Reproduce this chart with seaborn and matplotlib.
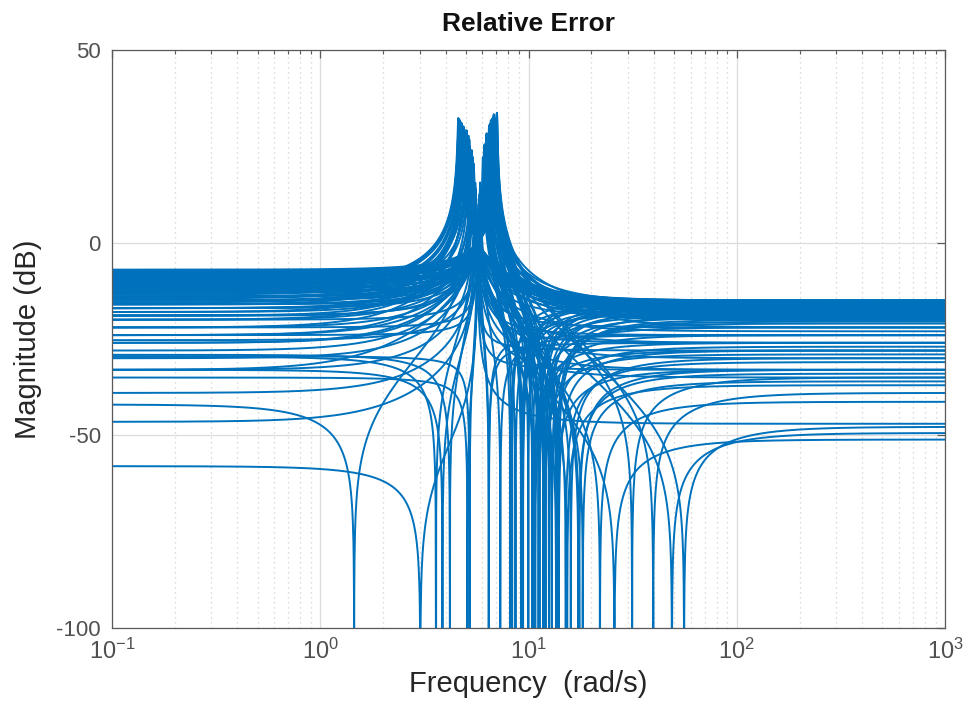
import numpy as np
import pandas as pd
import matplotlib
matplotlib.use("Agg")
import matplotlib.pyplot as plt
import seaborn as sns
from matplotlib.ticker import LogLocator, NullFormatter, FixedLocator, FuncFormatter

# ---- data read from the reference (one entry per sampled model) ----
# low-frequency level (dB) and its sign, high-frequency level (dB) and its sign
low_db = [-7, -8, -9, -10, -11, -8, -7.5, -8.5, -9.5, -12, -13, -14, -15, -9, -11, -9, -14, -25.3, -18.8, -16, -17,
          -7.2, -7.8, -8.2, -8.8, -9.2, -9.8, -10.5, -10.2, -11.5, -12.5, -7.6, -8.6,
          -11, -12, -13, -14, -15, -16, -17, -18, -20, -22, -24, -26, -30, -33, -39, -46.5,
          -11.5, -12.5, -11.2, -13.5, -12, -14.5, -10.8, -13, -15.5, -19,
          -12, -15, -17, -20, -24, -28, -33,
          -13, -14, -16, -18, -22, -26,
          -10, -14, -16, -17, -19, -11, -12.5, -15,
          -42, -58, -29.6, -29.1, -29.5,
          -33, -35,
          -24, -20, -22]
low_sign = ([-1] * 33 + [1] * 26 + [-1] * 13 + [1] * 8 + [-1] * 5 + [1] * 2 + [-1] * 3)
high_db = [-16, -15, -17, -15, -18, -20, -19, -17.5, -21, -22, -24, -28, -33, -35, -47.8, -39, -49.4, -51.1, -41.3, -34, -36,
           -15.5, -16.5, -18, -15.2, -19.5, -16.2, -17.2, -19, -16.5, -18.5, -17.8, -20.5,
           -16, -15, -17, -18, -19, -16, -20, -15, -17, -16, -19, -23, -26, -30, -33, -35,
           -15.5, -16.5, -17, -15.5, -18.5, -16.5, -15.8, -19.5, -17.5, -18,
           -22, -18, -20, -16, -17, -19, -15,
           -20, -17, -19, -15.5, -18, -16,
           -30, -26, -28, -33, -37, -27, -31, -29,
           -19.2, -47, -22, -24, -28,
           -26, -33,
           -26, -24, -24]
high_sign = ([-1] * 33 + [-1] * 26 + [1] * 13 + [1] * 8 + [-1] * 5 + [1] * 2 + [-1] * 3)

nominal_freq = 5.7      # rad/s, nominal resonance
damping_coef = 0.05     # damping coefficient of the resonance

# ---- build frequency responses of the relative error models ----
w_base = np.logspace(-1, 3, 3000)
rows = []
for i, (ld, ls, hd, hs) in enumerate(zip(low_db, low_sign, high_db, high_sign)):
    L = ls * 10 ** (ld / 20.0)
    H = hs * 10 ** (hd / 20.0)
    wp = nominal_freq * np.sqrt((1 + H) / (1 + L))
    extra = [wp]
    if L / H > 0:
        extra.append(wp * np.sqrt(L / H))
    w = np.unique(np.concatenate([w_base, extra]))
    E = (L * wp ** 2 - H * w ** 2) / (wp ** 2 - w ** 2 + 1j * damping_coef * w)
    mag = 20 * np.log10(np.maximum(np.abs(E), 1e-9))
    rows.append(pd.DataFrame({"w": w, "mag": mag, "curve": i}))
df = pd.concat(rows, ignore_index=True)

# ---- plotting ----
sns.set_theme(style="white")
plt.rcParams["font.family"] = ["Liberation Sans", "DejaVu Sans"]
plt.rcParams["axes.unicode_minus"] = False
plt.rcParams["mathtext.default"] = "regular"

fig = plt.figure(figsize=(9.7, 7.13), dpi=100)
ax = fig.add_axes([0.1155, 0.1192, 0.8588, 0.8107])

sns.lineplot(data=df, x="w", y="mag", units="curve", estimator=None,
             color="#0072BD", lw=1.4, ax=ax, legend=False, sort=True)

ax.set_xscale("log")
ax.set_xlim(0.1, 1000)
ax.set_ylim(-100, 50)
ax.yaxis.set_major_locator(FixedLocator([-100, -50, 0, 50]))
ax.xaxis.set_major_locator(LogLocator(base=10, numticks=10))
ax.xaxis.set_major_formatter(FuncFormatter(lambda v, p: "$10^{%d}$" % int(round(np.log10(v)))))
ax.xaxis.set_minor_locator(LogLocator(base=10, subs=np.arange(2, 10), numticks=50))
ax.xaxis.set_minor_formatter(NullFormatter())

ax.grid(True, which="major", color="#dcdcdc", lw=0.9, ls="-")
ax.grid(True, which="minor", axis="x", color="#cfcfcf", lw=0.9, ls=(0, (1, 3)))
ax.set_axisbelow(True)

for s in ax.spines.values():
    s.set_color("#5a5a5a")
    s.set_linewidth(0.9)
    s.set_visible(True)

ax.tick_params(which="both", direction="in", top=True, right=True,
               colors="#5a5a5a", labelcolor="#505050", labelsize=16)
ax.tick_params(which="major", length=6, width=0.9, pad=8)
ax.tick_params(which="minor", length=3, width=0.8)
ax.tick_params(axis="x", which="major", labelsize=17)

ax.set_xlabel("Frequency  (rad/s)", fontsize=21, color="#262626", labelpad=4)
ax.set_ylabel("Magnitude (dB)", fontsize=21, color="#262626", labelpad=10)
ax.set_title("Relative Error", fontsize=19, fontweight="bold", color="#111111", pad=14)

fig.savefig("out.png", dpi=100)
